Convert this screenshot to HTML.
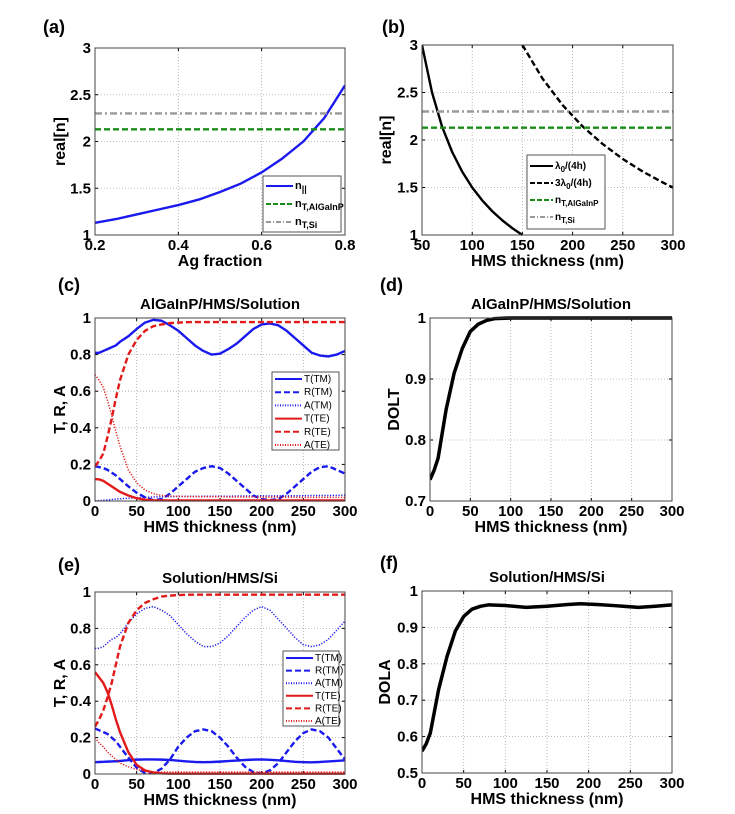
<!DOCTYPE html>
<html><head><meta charset="utf-8"><style>
html,body{margin:0;padding:0;background:#fff;}
svg{display:block;font-family:"Liberation Sans",Arial,sans-serif;}
</style></head><body>
<svg id="fig" width="735" height="814" viewBox="0 0 735 814" xmlns="http://www.w3.org/2000/svg"></svg>
<script>
// ---- data ----
const agX = [0.2,0.25,0.3,0.35,0.4,0.45,0.5,0.55,0.6,0.65,0.7,0.75,0.8];
const nPar = [1.13,1.17,1.22,1.27,1.32,1.38,1.46,1.55,1.67,1.82,2.0,2.25,2.6];
const nTAlGaInP = 2.13;
const nTSi = 2.30;
const hB1 = [50,60,70,80,90,100,110,120,130,140,150];
const nQuarter = [3.0,2.5,2.14,1.875,1.667,1.5,1.364,1.25,1.154,1.071,1.0];
const hB2 = [150,170,190,210,230,250,270,290,300];
const nThreeQuarter = [3.0,2.647,2.368,2.143,1.957,1.8,1.667,1.552,1.5];
const hX = [0,5,10,15,20,25,30,40,50,60,70,80,90,100,110,120,130,140,150,160,170,180,190,200,210,220,230,240,250,260,270,280,290,300];
const cTTM = [0.81,0.81,0.82,0.83,0.84,0.85,0.87,0.90,0.94,0.975,0.99,0.985,0.96,0.93,0.89,0.85,0.82,0.80,0.805,0.83,0.86,0.90,0.94,0.965,0.97,0.96,0.93,0.89,0.85,0.81,0.795,0.79,0.80,0.82];
const cRTM = [0.19,0.185,0.18,0.17,0.155,0.14,0.12,0.08,0.045,0.02,0.005,0.01,0.04,0.08,0.12,0.16,0.18,0.19,0.18,0.15,0.11,0.07,0.03,0.01,0.005,0.01,0.04,0.08,0.12,0.16,0.185,0.19,0.17,0.15];
const cATM = [0.0,0.002,0.004,0.006,0.008,0.01,0.012,0.015,0.018,0.02,0.022,0.023,0.024,0.025,0.025,0.025,0.026,0.026,0.026,0.026,0.027,0.027,0.027,0.028,0.028,0.028,0.028,0.029,0.029,0.03,0.03,0.03,0.031,0.032];
const cTTE = [0.12,0.118,0.11,0.095,0.08,0.065,0.05,0.03,0.015,0.007,0.004,0.003,0.003,0.003,0.003,0.003,0.003,0.003,0.003,0.003,0.003,0.003,0.003,0.003,0.003,0.003,0.003,0.003,0.003,0.003,0.003,0.003,0.003,0.003];
const cRTE = [0.19,0.22,0.26,0.35,0.45,0.56,0.66,0.80,0.88,0.93,0.955,0.965,0.972,0.975,0.977,0.978,0.978,0.978,0.978,0.978,0.978,0.978,0.978,0.978,0.978,0.978,0.978,0.978,0.978,0.978,0.978,0.978,0.978,0.978];
const cATE = [0.69,0.66,0.62,0.55,0.47,0.38,0.30,0.17,0.10,0.06,0.04,0.03,0.027,0.025,0.024,0.024,0.023,0.023,0.023,0.022,0.022,0.022,0.022,0.021,0.021,0.021,0.021,0.02,0.02,0.02,0.02,0.02,0.02,0.02];
const eTTM = [0.065,0.066,0.067,0.068,0.069,0.07,0.072,0.076,0.079,0.08,0.08,0.079,0.077,0.073,0.069,0.066,0.065,0.066,0.068,0.071,0.074,0.077,0.079,0.08,0.078,0.075,0.071,0.067,0.065,0.064,0.066,0.069,0.072,0.075];
const eRTM = [0.25,0.24,0.23,0.22,0.2,0.18,0.15,0.09,0.035,0.005,0.005,0.03,0.08,0.15,0.2,0.235,0.245,0.235,0.2,0.15,0.09,0.04,0.01,0.003,0.02,0.06,0.12,0.18,0.225,0.245,0.235,0.2,0.14,0.08];
const eATM = [0.69,0.69,0.70,0.72,0.74,0.75,0.77,0.83,0.88,0.91,0.92,0.90,0.87,0.82,0.77,0.73,0.70,0.70,0.72,0.76,0.81,0.86,0.90,0.92,0.90,0.85,0.80,0.75,0.71,0.70,0.71,0.74,0.79,0.84];
const eTTE = [0.56,0.53,0.50,0.45,0.38,0.30,0.23,0.12,0.05,0.02,0.008,0.003,0.002,0.002,0.002,0.002,0.002,0.002,0.002,0.002,0.002,0.002,0.002,0.002,0.002,0.002,0.002,0.002,0.002,0.002,0.002,0.002,0.002,0.002];
const eRTE = [0.26,0.30,0.35,0.42,0.50,0.60,0.70,0.83,0.90,0.94,0.96,0.975,0.98,0.983,0.985,0.985,0.985,0.985,0.985,0.985,0.985,0.985,0.985,0.985,0.985,0.985,0.985,0.985,0.985,0.985,0.985,0.985,0.985,0.985];
const eATE = [0.20,0.17,0.15,0.12,0.10,0.08,0.06,0.04,0.025,0.015,0.012,0.01,0.01,0.01,0.01,0.01,0.01,0.01,0.01,0.01,0.01,0.01,0.01,0.01,0.01,0.01,0.01,0.01,0.01,0.01,0.01,0.01,0.01,0.01];
const dX = [0,5,10,20,30,40,50,60,70,80,100,150,200,250,300];
const dolt = [0.735,0.75,0.77,0.85,0.91,0.95,0.978,0.99,0.996,0.999,1.0,1.0,1.0,1.0,1.0];
const fX = [0,5,10,20,30,40,50,60,70,80,100,125,150,175,190,210,230,260,280,300];
const dola = [0.56,0.58,0.61,0.73,0.82,0.89,0.93,0.95,0.958,0.962,0.96,0.955,0.958,0.963,0.965,0.963,0.96,0.955,0.958,0.962];

const ticksA_x = ["0.2","0.4","0.6","0.8"];
const ticksN_y = ["1","1.5","2","2.5","3"];
const ticksB_x = ["50","100","150","200","250","300"];
const ticksH_x = ["0","50","100","150","200","250","300"];
const ticksTRA_y = ["0","0.2","0.4","0.6","0.8","1"];
const ticksD_y = ["0.7","0.8","0.9","1"];
const ticksF_y = ["0.5","0.6","0.7","0.8","0.9","1"];

const NS="http://www.w3.org/2000/svg";
const svg=document.getElementById('fig');
function mk(tag,attrs,parent){const e=document.createElementNS(NS,tag);for(const k in attrs)e.setAttribute(k,attrs[k]);(parent||svg).appendChild(e);return e;}
function txt(x,y,s,size,anchor,parent,extra){const t=mk('text',Object.assign({x:x,y:y,'font-size':size,'font-weight':'bold','text-anchor':anchor||'middle',fill:'#000'},extra||{}),parent);t.textContent=s;return t;}

function panel(cfg){
  const g=mk('g',{});
  
  
  const sx=v=>cfg.x0+(v-cfg.xmin)/(cfg.xmax-cfg.xmin)*(cfg.x1-cfg.x0);
  const sy=v=>cfg.y1-(v-cfg.ymin)/(cfg.ymax-cfg.ymin)*(cfg.y1-cfg.y0);
  cfg.xt.forEach(s=>{const v=parseFloat(s);const x=sx(v);
    const l=mk('line',{x1:x,x2:x,y1:cfg.y0,y2:cfg.y1,stroke:'#aaa','stroke-width':0.8,'stroke-dasharray':'1,2'},g);
    
    
    const t=txt(x,cfg.y1+15,s,15,'middle',g);
    
    
    mk('line',{x1:x,x2:x,y1:cfg.y1,y2:cfg.y1-3,stroke:'#000'},g);
    mk('line',{x1:x,x2:x,y1:cfg.y0,y2:cfg.y0+3,stroke:'#000'},g);
  });
  cfg.yt.forEach(s=>{const v=parseFloat(s);const y=sy(v);
    const l=mk('line',{x1:cfg.x0,x2:cfg.x1,y1:y,y2:y,stroke:'#aaa','stroke-width':0.8,'stroke-dasharray':'1,2'},g);
    
    
    const t=txt(cfg.x0-4,y+5,s,15,'end',g);
    
    
    mk('line',{x1:cfg.x0,x2:cfg.x0+3,y1:y,y2:y,stroke:'#000'},g);
    mk('line',{x1:cfg.x1,x2:cfg.x1-3,y1:y,y2:y,stroke:'#000'},g);
  });
  const clip='clip-'+cfg.name;
  const cp=mk('clipPath',{id:clip},g);mk('rect',{x:cfg.x0,y:cfg.y0-2,width:cfg.x1-cfg.x0,height:cfg.y1-cfg.y0+4},cp);
  cfg.series.forEach(s=>{
    let pts;
    if(s.h!==undefined) pts=[[cfg.xmin,s.h],[cfg.xmax,s.h]];
    else pts=s.x.map((v,i)=>[v,s.y[i]]);
    const d=pts.map((p,i)=>(i?'L':'M')+sx(p[0]).toFixed(2)+','+sy(p[1]).toFixed(2)).join('');
    const p=mk('path',{d:d,fill:'none',stroke:s.c,'stroke-width':s.w||2.4,'stroke-dasharray':s.dash||'','clip-path':'url(#'+clip+')','stroke-linejoin':'round'},g);
    
    
  });
  const box=mk('rect',{x:cfg.x0,y:cfg.y0,width:cfg.x1-cfg.x0,height:cfg.y1-cfg.y0,fill:'none',stroke:'#444','stroke-width':1},g);
  
  
  const xl=txt((cfg.x0+cfg.x1)/2,cfg.y1+31,cfg.xlabel,16,'middle',g);
  
  
  const yc=(cfg.y0+cfg.y1)/2;
  const yl=txt(cfg.ylx,yc,cfg.ylabel,16,'middle',g,{transform:'rotate(-90 '+cfg.ylx+' '+yc+')'});
  
  
  if(cfg.title){const t=txt((cfg.x0+cfg.x1)/2,cfg.y0-9,cfg.title,15,'middle',g);
    
    }
  const pl=txt(cfg.lx,cfg.ly,cfg.letter,18,'start',g);
  
  
  if(cfg.legend){const L=cfg.legend;
    const lg=mk('g',{},g);
    
    
    mk('rect',{x:L.x,y:L.y,width:L.w,height:L.h,fill:'#fff',stroke:'#555','stroke-width':1},lg);
    L.items.forEach((it,i)=>{const yy=L.y+L.pad+i*L.dy;
      mk('line',{x1:L.x+3,x2:L.x+L.sw,y1:yy,y2:yy,stroke:it.c,'stroke-width':2,'stroke-dasharray':it.dash||''},lg);
      const t=mk('text',{x:L.x+L.sw+2,y:yy+3,'font-size':L.fs,'font-weight':L.fw||'bold',fill:'#000'},lg);
      
      
      t.textContent=it.t;
      if(it.sub){const ts=mk('tspan',{'font-size':L.fs-2,dy:3},t);ts.textContent=it.sub;}
      if(it.post){const tp=mk('tspan',{dy:-3},t);tp.textContent=it.post;}
    });
  }
}
const BLUE='#1a1aee',RED='#e21a1a',GREEN='#1a8c1a',GRAY='#999';
const DASH='6,3',DOT='1.2,1.6',DASHDOT='7,3,2,3';

panel({name:'panel-a',letter:'(a)',lx:43,ly:33,x0:95,x1:345,y0:48,y1:235,xmin:0.2,xmax:0.8,ymin:1,ymax:3,xt:ticksA_x,yt:ticksN_y,xlabel:'Ag fraction',ylabel:'real[n]',ylx:65,
 series:[{nm:'n-parallel-line',x:agX,y:nPar,c:BLUE},{nm:'nT-algainp-line',h:nTAlGaInP,c:GREEN,dash:DASH},{nm:'nT-si-line',h:nTSi,c:GRAY,dash:DASHDOT}],
 legend:{x:263,y:176,w:78,h:56,pad:10,dy:18,sw:30,fs:11,items:[{t:'n',sub:'||',c:BLUE},{t:'n',sub:'T,AlGaInP',c:GREEN,dash:'5,2'},{t:'n',sub:'T,Si',c:GRAY,dash:'5,2,1,2'}]}});
panel({name:'panel-b',letter:'(b)',lx:382,ly:33,x0:422,x1:673,y0:45,y1:235,xmin:50,xmax:300,ymin:1,ymax:3,xt:ticksB_x,yt:ticksN_y,xlabel:'HMS thickness (nm)',ylabel:'real[n]',ylx:391,
 series:[{nm:'quarter-wave-line',x:hB1,y:nQuarter,c:'#000'},{nm:'three-quarter-wave-line',x:hB2,y:nThreeQuarter,c:'#000',dash:DASH},{nm:'nT-algainp-line',h:nTAlGaInP,c:GREEN,dash:DASH},{nm:'nT-si-line',h:nTSi,c:GRAY,dash:DASHDOT}],
 legend:{x:527,y:155,w:78,h:74,pad:11,dy:17,sw:26,fs:10,items:[{t:'λ',sub:'0',post:'/(4h)',c:'#000'},{t:'3λ',sub:'0',post:'/(4h)',c:'#000',dash:'5,2'},{t:'n',sub:'T,AlGaInP',c:GREEN,dash:'5,2'},{t:'n',sub:'T,Si',c:GRAY,dash:'5,2,1,2'}]}});
const trLegend=(x,y,w,h)=>({x:x,y:y,w:w,h:h,pad:7,dy:(h-12)/5,sw:30,fs:10,fw:'normal',items:[{t:'T(TM)',c:BLUE},{t:'R(TM)',c:BLUE,dash:'6,3'},{t:'A(TM)',c:BLUE,dash:'1,1.5'},{t:'T(TE)',c:RED},{t:'R(TE)',c:RED,dash:'6,3'},{t:'A(TE)',c:RED,dash:'1,1.5'}]});
panel({name:'panel-c',letter:'(c)',lx:58,ly:291,x0:95,x1:345,y0:318,y1:501,xmin:0,xmax:300,ymin:0,ymax:1,xt:ticksH_x,yt:ticksTRA_y,xlabel:'HMS thickness (nm)',ylabel:'T, R, A',ylx:65,title:'AlGaInP/HMS/Solution',
 series:[{nm:'T-TM-line',x:hX,y:cTTM,c:BLUE},{nm:'R-TM-line',x:hX,y:cRTM,c:BLUE,dash:DASH},{nm:'A-TM-line',x:hX,y:cATM,c:BLUE,dash:DOT,w:1.5},{nm:'T-TE-line',x:hX,y:cTTE,c:RED},{nm:'R-TE-line',x:hX,y:cRTE,c:RED,dash:DASH},{nm:'A-TE-line',x:hX,y:cATE,c:RED,dash:DOT,w:1.5}],
 legend:trLegend(272,372,67,78)});
panel({name:'panel-d',letter:'(d)',lx:380,ly:291,x0:430,x1:672,y0:318,y1:501,xmin:0,xmax:300,ymin:0.7,ymax:1,xt:ticksH_x,yt:ticksD_y,xlabel:'HMS thickness (nm)',ylabel:'DOLT',ylx:399,title:'AlGaInP/HMS/Solution',
 series:[{nm:'dolt-line',x:dX,y:dolt,c:'#000',w:3.5}]});
panel({name:'panel-e',letter:'(e)',lx:58,ly:571,x0:95,x1:345,y0:592,y1:774,xmin:0,xmax:300,ymin:0,ymax:1,xt:ticksH_x,yt:ticksTRA_y,xlabel:'HMS thickness (nm)',ylabel:'T, R, A',ylx:65,title:'Solution/HMS/Si',
 series:[{nm:'T-TM-line',x:hX,y:eTTM,c:BLUE},{nm:'R-TM-line',x:hX,y:eRTM,c:BLUE,dash:DASH},{nm:'A-TM-line',x:hX,y:eATM,c:BLUE,dash:DOT,w:1.5},{nm:'T-TE-line',x:hX,y:eTTE,c:RED},{nm:'R-TE-line',x:hX,y:eRTE,c:RED,dash:DASH},{nm:'A-TE-line',x:hX,y:eATE,c:RED,dash:DOT,w:1.5}],
 legend:trLegend(283,651,56,75)});
panel({name:'panel-f',letter:'(f)',lx:380,ly:569,x0:422,x1:672,y0:591,y1:773,xmin:0,xmax:300,ymin:0.5,ymax:1,xt:ticksH_x,yt:ticksF_y,xlabel:'HMS thickness (nm)',ylabel:'DOLA',ylx:390,title:'Solution/HMS/Si',
 series:[{nm:'dola-line',x:fX,y:dola,c:'#000',w:3.5}]});
</script>
</body></html>
